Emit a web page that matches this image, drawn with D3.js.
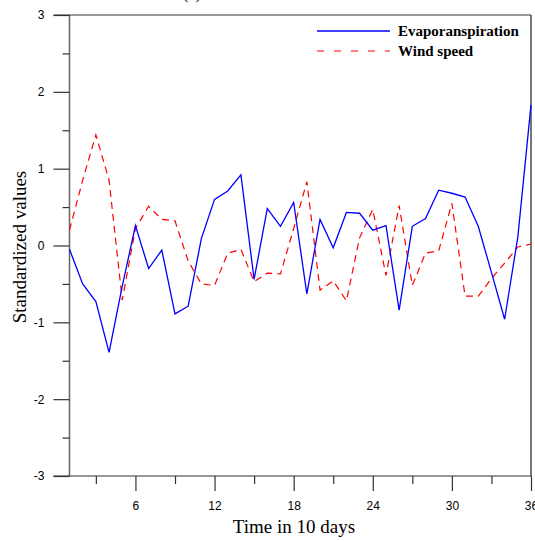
<!DOCTYPE html>
<html><head><meta charset="utf-8">
<script src="https://cdn.jsdelivr.net/npm/d3@7"></script>
<style>body{margin:0;background:#fff}svg{display:block}</style>
</head><body>
<svg id="c" width="535" height="541"></svg>
<script>
const time = d3.range(1, 37);
const evapotranspiration = [-0.05,-0.50,-0.73,-1.39,-0.53,0.26,-0.30,-0.06,-0.89,-0.79,0.09,0.60,0.71,0.92,-0.44,0.48,0.25,0.56,-0.63,0.34,-0.03,0.43,0.42,0.20,0.26,-0.84,0.25,0.35,0.72,0.68,0.63,0.25,-0.35,-0.96,0.11,1.83];
const windSpeed = [0.20,0.85,1.44,0.85,-0.71,0.22,0.51,0.34,0.32,-0.20,-0.50,-0.52,-0.10,-0.05,-0.47,-0.36,-0.37,0.22,0.83,-0.58,-0.46,-0.72,0.10,0.47,-0.39,0.52,-0.52,-0.10,-0.07,0.55,-0.66,-0.66,-0.43,-0.23,-0.02,0.02];
const xMajorTicks = [6,12,18,24,30,36];
const xMinorTicks = [3,9,15,21,27,33];
const yMajorTicks = [-3,-2,-1,0,1,2,3];
const yMinorTicks = [-2.5,-1.5,-0.5,0.5,1.5,2.5];
const seriesNames = ["Evaporanspiration","Wind speed"];

const svg = d3.select("#c");
const L = 69.5, R = 531, T = 15, B = 476;
const x = d3.scaleLinear().domain([1,36]).range([L,R]);
const y = d3.scaleLinear().domain([-3,3]).range([B,T]);
const axisCol = "#333";

// title fragment (cut off at top, as in the reference)
svg.append("text").attr("x",183).attr("y",-1).attr("font-family","Liberation Serif").attr("font-size",16).text("(a)");

// frame
svg.append("line").attr("x1",L).attr("x2",L).attr("y1",T).attr("y2",B).attr("stroke","#666").attr("stroke-width",1.5);
svg.append("line").attr("x1",R).attr("x2",R).attr("y1",T).attr("y2",B).attr("stroke","#777").attr("stroke-width",2);
svg.append("line").attr("x1",L-16).attr("x2",R).attr("y1",T).attr("y2",T).attr("stroke",axisCol).attr("stroke-width",1.2);
svg.append("line").attr("x1",L-16).attr("x2",R).attr("y1",B).attr("y2",B).attr("stroke",axisCol).attr("stroke-width",1.2);

const fmt = d => String(d);

// y axis ticks
const yAx = svg.append("g").attr("transform",`translate(${L},0)`)
  .call(d3.axisLeft(y).tickValues(yMajorTicks).tickSize(16).tickPadding(9).tickFormat(fmt));
yAx.select(".domain").remove();
yAx.selectAll("line").attr("stroke",axisCol).attr("stroke-width",1.2);
yAx.selectAll("text").attr("font-family","Liberation Sans, Arial").attr("font-size",12).attr("fill","#000");
const yMin = svg.append("g").attr("transform",`translate(${L},0)`)
  .call(d3.axisLeft(y).tickValues(yMinorTicks).tickSize(7).tickFormat(""));
yMin.select(".domain").remove();
yMin.selectAll("line").attr("stroke",axisCol).attr("stroke-width",1.2);

// x axis ticks
const xAx = svg.append("g").attr("transform",`translate(0,${B})`)
  .call(d3.axisBottom(x).tickValues(xMajorTicks).tickSize(15).tickPadding(10).tickFormat(fmt));
xAx.select(".domain").remove();
xAx.selectAll("line").attr("stroke",axisCol).attr("stroke-width",1.2);
xAx.selectAll("text").attr("font-family","Liberation Sans, Arial").attr("font-size",12).attr("fill","#000");
const xMin = svg.append("g").attr("transform",`translate(0,${B})`)
  .call(d3.axisBottom(x).tickValues(xMinorTicks).tickSize(8).tickFormat(""));
xMin.select(".domain").remove();
xMin.selectAll("line").attr("stroke",axisCol).attr("stroke-width",1.2);

// axis titles
svg.append("text").attr("x",294).attr("y",533).attr("text-anchor","middle")
  .attr("font-family","Liberation Serif, Times New Roman").attr("font-size",19).text("Time in 10 days");
svg.append("text").attr("transform","translate(26,247) rotate(-90)").attr("text-anchor","middle")
  .attr("font-family","Liberation Serif, Times New Roman").attr("font-size",19).text("Standardized values");

// lines
const line = d3.line().x((d,i)=>x(time[i])).y(d=>y(d));
svg.append("path").datum(windSpeed).attr("d",line).attr("fill","none")
  .attr("stroke","#ff0000").attr("stroke-width",1.2).attr("stroke-dasharray","7,5");
svg.append("path").datum(evapotranspiration).attr("d",line).attr("fill","none")
  .attr("stroke","#0000ff").attr("stroke-width",1.3);

// legend
const leg = svg.append("g");
leg.append("line").attr("x1",317).attr("x2",390).attr("y1",31).attr("y2",31).attr("stroke","#0000ff").attr("stroke-width",1.3);
leg.append("line").attr("x1",317).attr("x2",390).attr("y1",51).attr("y2",51).attr("stroke","#ff0000").attr("stroke-width",1.2).attr("stroke-dasharray","7,10");
leg.selectAll("text.lg").data(seriesNames).enter().append("text")
  .attr("x",398).attr("y",(d,i)=>36+i*19.5)
  .attr("font-family","Liberation Serif, Times New Roman").attr("font-weight","bold").attr("font-size",15)
  .text(d=>d);
</script>
</body></html>
